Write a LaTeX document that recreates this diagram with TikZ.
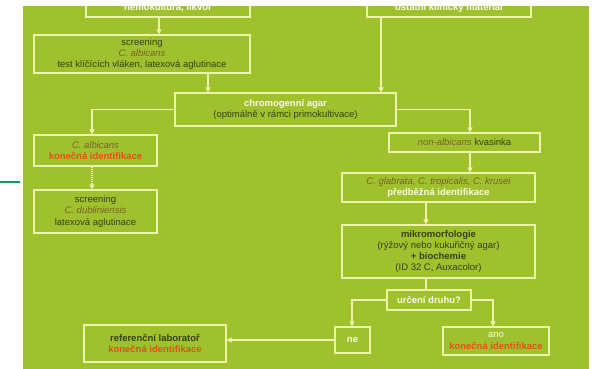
\documentclass[tikz,border=0pt]{standalone}
\usepackage{fontspec}
\setmainfont{Liberation Sans}
\usetikzlibrary{arrows.meta}
\definecolor{bggreen}{RGB}{160,193,46}
\definecolor{boxline}{RGB}{238,244,170}
\definecolor{darktxt}{RGB}{52,66,24}
\definecolor{olivetxt}{RGB}{122,98,40}
\definecolor{orangetxt}{RGB}{222,84,24}
\definecolor{whitetxt}{RGB}{250,250,226}
\definecolor{tealline}{RGB}{20,160,90}
\tikzset{
  box/.style={draw=boxline, line width=1.1pt, rectangle, inner sep=0pt, align=center,
    font=\fontsize{9.5}{11.2}\selectfont, text=darktxt},
  arr/.style={draw=boxline, line width=1.1pt, -{Triangle[width=5pt,length=5pt]}},
  ln/.style={draw=boxline, line width=1.1pt},
  dotarr/.style={draw=boxline, line width=1.1pt, densely dotted, -{Triangle[width=5pt,length=5pt]}},
  wt/.style={text=whitetxt, font=\fontsize{9.5}{11.2}\selectfont\bfseries},
}
\newcommand{\ol}[1]{{\color{olivetxt}\itshape #1}}
\newcommand{\orng}[1]{{\color{orangetxt}\bfseries #1}}
\newcommand{\wh}[1]{{\color{whitetxt}\bfseries #1}}
\begin{document}
\begin{tikzpicture}[x=1pt,y=-1pt]
\useasboundingbox (0,0) rectangle (592,369);
\fill[white] (0,0) rectangle (592,369);
\fill[bggreen] (23,6) rectangle (589,369);
\draw[tealline, line width=2pt] (0,182) -- (20,182);

\begin{scope}
\clip (23,6) rectangle (589,369);
\node[box, minimum width=164pt, minimum height=28pt] (b1) at (168,3) {};
\node[wt] (t1) at (168,8) {hemokultura, likvor};
\node[box, minimum width=164pt, minimum height=28pt] (b2) at (449,3) {};
\node[wt] (t2) at (449,8) {ostatní klinický materiál};
\end{scope}

\node[box, minimum width=216pt, minimum height=38pt] (scr) at (142,54)
  {screening\\ \ol{C. albicans}\\ test klíčících vláken, latexová aglutinace};
\node[box, minimum width=221pt, minimum height=33pt] (chrom) at (285.5,109.5)
  {\wh{chromogenní agar}\\ (optimálně v rámci primokultivace)};
\node[box, minimum width=123pt, minimum height=31pt] (alb) at (95.5,150.5)
  {\ol{C. albicans}\\ \orng{konečná identifikace}};
\node[box, minimum width=123pt, minimum height=43pt] (dub) at (95.5,211.5)
  {screening\\ \ol{C. dubliniensis}\\ latexová aglutinace};
\node[box, minimum width=151pt, minimum height=19pt] (non) at (464.5,142.5)
  {\ol{non-albicans} kvasinka};
\node[box, minimum width=193pt, minimum height=29pt] (gla) at (438.5,187.5)
  {\ol{C. glabrata, C. tropicalis, C. krusei}\\ \wh{předběžná identifikace}};
\node[box, minimum width=193pt, minimum height=53pt] (mik) at (438.5,251.5)
  {\textbf{mikromorfologie}\\ (rýžový nebo kukuřičný agar)\\ \textbf{+ biochemie}\\ (ID 32 C, Auxacolor)};
\node[box, minimum width=84pt, minimum height=20pt] (urc) at (429,300)
  {\wh{určení druhu?}};
\node[box, minimum width=35pt, minimum height=26pt] (ne) at (352.5,340)
  {\wh{ne}};
\node[box, minimum width=106pt, minimum height=28pt] (ano) at (496,341)
  {{\color{whitetxt}ano}\\ \orng{konečná identifikace}};
\node[box, minimum width=142pt, minimum height=37pt] (ref) at (155,343.5)
  {\textbf{referenční laboratoř}\\ \orng{konečná identifikace}};

\coordinate (x159) at (159,0);
\coordinate (x208) at (208,0);
\coordinate (x381) at (381,0);
\coordinate (x92) at (92,0);
\coordinate (x470) at (470,0);
\coordinate (x426) at (426,0);
\coordinate (x352) at (352,0);
\coordinate (x493) at (493,0);

\draw[arr] (b1.south -| x159) -- (scr.north -| x159);
\draw[arr] (scr.south -| x208) -- (chrom.north -| x208);
\draw[arr] (b2.south -| x381) -- (chrom.north -| x381);
\draw[arr] (chrom.west) -| (alb.north -| x92);
\draw[dotarr] (alb.south -| x92) -- (dub.north -| x92);
\draw[arr] (chrom.east) -| (non.north -| x470);
\draw[arr] (non.south -| x470) -- (gla.north -| x470);
\draw[arr] (gla.south -| x426) -- (mik.north -| x426);
\draw[ln] (mik.south -| x426) -- (urc.north -| x426);
\draw[arr] (urc.west) -| (ne.north -| x352);
\draw[arr] (urc.east) -| (ano.north -| x493);
\draw[arr] (ne.west) -- (ne.west -| ref.east);
\end{tikzpicture}
\end{document}
